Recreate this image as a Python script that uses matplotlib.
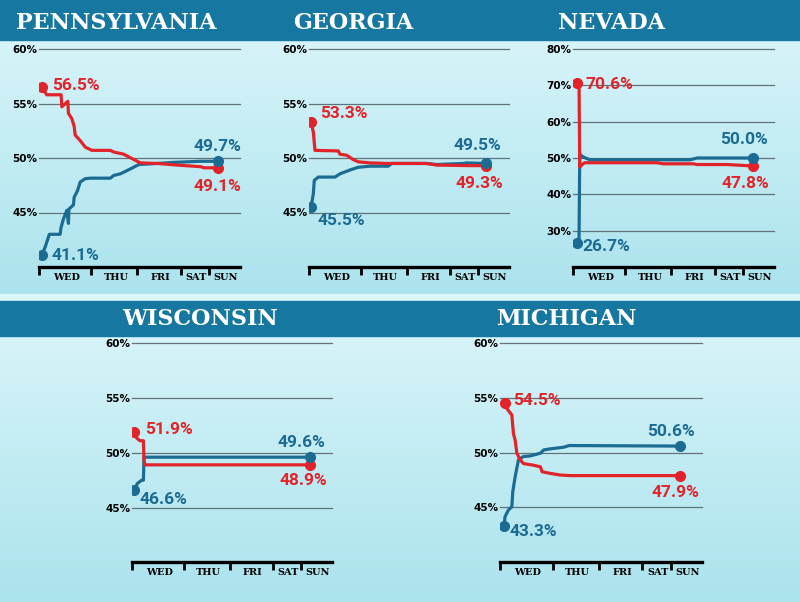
import matplotlib.pyplot as plt
import numpy as np
from matplotlib.patches import Rectangle

RED = '#e2232a'
BLUE = '#1b6b93'
BAND = '#1677a0'
GRID = '#5f7378'

days = ['WED', 'THU', 'FRI', 'SAT', 'SUN']
day_edges = [0, 52, 98, 141, 169, 200]

# Pennsylvania
pa_rep_x = [2.7, 7.7, 22, 22.7, 28.7, 29.3, 32.7, 35, 36, 41, 46, 52.7, 71, 74.3, 84.3, 89.3,
            97.7, 101, 117.7, 137.7, 161, 164.3, 177.7]
pa_rep_y = [56.5, 55.8, 55.8, 54.7, 55.2, 54.1, 53.6, 52.9, 52.1, 51.6, 51.0, 50.7, 50.7, 50.55,
            50.35, 50.1, 49.7, 49.55, 49.5, 49.35, 49.2, 49.1, 49.1]
pa_dem_x = [2.7, 6, 10.3, 21, 22, 24.3, 27.7, 29.3, 29.7, 34.3, 35, 38.3, 41, 46, 51, 71, 74.3,
            81, 91, 99.3, 117.7, 134.3, 161, 177.7]
pa_dem_y = [41.1, 41.8, 43.0, 43.0, 43.65, 44.4, 45.2, 44.0, 45.3, 45.7, 46.4, 47.0, 47.8, 48.1,
            48.15, 48.15, 48.4, 48.55, 49.0, 49.4, 49.5, 49.6, 49.7, 49.7]

# Georgia
ga_rep_x = [2, 4.3, 6, 29.3, 31, 37.7, 44.3, 49.3, 61, 77.7, 117.7, 127.7, 161, 177]
ga_rep_y = [53.3, 52.4, 50.7, 50.65, 50.35, 50.25, 49.85, 49.65, 49.55, 49.5, 49.5, 49.35,
            49.3, 49.3]
ga_dem_x = [2, 4.3, 5.3, 9.3, 26, 31, 41, 49.3, 61, 79.3, 82.7, 117.7, 127.7, 154.3, 157.7, 177]
ga_dem_y = [45.5, 46.7, 47.95, 48.25, 48.25, 48.55, 48.9, 49.15, 49.25, 49.25, 49.5, 49.5,
            49.4, 49.5, 49.55, 49.5]

# Nevada
nv_rep_x = [4.3, 6, 6.7, 10, 11.7, 83.3, 90, 120, 123.3, 153.3, 166.7, 178.7]
nv_rep_y = [70.6, 70.6, 47.5, 48.4, 48.7, 48.7, 48.4, 48.4, 48.2, 48.2, 48.0, 47.8]
nv_dem_x = [4.3, 6, 6.7, 10, 16.7, 116.7, 123.3, 178.7]
nv_dem_y = [26.7, 27.0, 51.0, 50.3, 49.5, 49.5, 50.0, 50.0]

# Wisconsin
wi_rep_x = [2.7, 5, 8.3, 11.7, 12.3, 13.3, 178.3]
wi_rep_y = [51.9, 51.35, 51.1, 51.1, 49.3, 48.9, 48.9]
wi_dem_x = [2.3, 5.7, 10, 11.7, 12.3, 178.3]
wi_dem_y = [46.6, 47.2, 47.5, 47.5, 49.6, 49.6]

# Michigan
mi_rep_x = [5, 6.7, 11.7, 13.3, 15, 16.7, 20, 23.3, 33.3, 40, 41.7, 50, 60, 70, 178.3]
mi_rep_y = [54.5, 54.05, 53.45, 51.75, 51.15, 49.95, 49.35, 49.0, 48.85, 48.7, 48.25, 48.1,
            47.95, 47.9, 47.9]
mi_dem_x = [4, 5, 8.3, 11.7, 12.7, 15, 18.3, 23.3, 30, 40, 43.3, 50, 63.3, 68.3, 178.3]
mi_dem_y = [43.3, 44.15, 44.75, 45.05, 46.45, 47.8, 49.35, 49.65, 49.7, 49.95, 50.25, 50.35,
            50.5, 50.65, 50.6]

W, H = 800, 602
fig = plt.figure(figsize=(8, 6.02), dpi=100)

# background: gradient rows and blue title bands
bg = fig.add_axes([0, 0, 1, 1])
bg.set_xlim(0, W)
bg.set_ylim(H, 0)
bg.axis('off')
ys = np.arange(H)
top = np.array([0.84, 0.955, 0.975])
low = np.array([0.67, 0.89, 0.93])
grad = np.zeros((H, 1, 3))
for i, y in enumerate(ys):
    if y < 300:
        t = np.clip((y - 40) / 255, 0, 1)
    else:
        t = np.clip((y - 336) / 266, 0, 1)
    grad[i, 0] = top * (1 - t) + low * t
bg.imshow(grad, extent=[0, W, H, 0], aspect='auto', zorder=0)
bg.add_patch(Rectangle((0, 294), W, 6, color='#dcf6fa', zorder=1))
bg.add_patch(Rectangle((0, 0), W, 40, color=BAND, zorder=2))
bg.add_patch(Rectangle((0, 300.5), W, 35, color=BAND, zorder=2))

title_font = dict(color='white', fontsize=16, fontweight='bold', family='DejaVu Serif',
                  va='center', ha='left', zorder=3)
bg.text(16, 23, 'PENNSYLVANIA', **title_font)
bg.text(293, 23, 'GEORGIA', **title_font)
bg.text(558, 23, 'NEVADA', **title_font)
bg.text(122, 319, 'WISCONSIN', **title_font)
bg.text(496, 319, 'MICHIGAN', **title_font)


def draw_panel(box, yticks, ylim, rep_x, rep_y, dem_x, dem_y, offsets):
    left, top_px, right, bottom_px = box
    ax = fig.add_axes([left / W, 1 - bottom_px / H, (right - left) / W, (bottom_px - top_px) / H])
    ax.set_xlim(0, 200)
    ax.set_ylim(*ylim)
    ax.patch.set_alpha(0)
    for t in yticks:
        ax.axhline(t, color=GRID, lw=0.9, clip_on=False, zorder=1)
    ax.set_yticks(yticks)
    ax.set_yticklabels([f'{t}%' for t in yticks], fontsize=7.5, fontweight='bold')
    ax.tick_params(axis='y', length=0, pad=1)
    for s in ['left', 'top', 'right']:
        ax.spines[s].set_visible(False)
    ax.spines['bottom'].set_linewidth(2.4)
    ax.set_xticks(day_edges[:-1])
    ax.set_xticklabels([])
    ax.tick_params(axis='x', which='major', length=6, width=2, direction='out', color='black')
    mids = [(a + b) / 2 + 1.5 for a, b in zip(day_edges[:-1], day_edges[1:])]
    ax.set_xticks(mids, minor=True)
    ax.set_xticklabels(days, minor=True, fontsize=7, fontweight='bold', family='DejaVu Serif')
    ax.tick_params(axis='x', which='minor', length=0, pad=4)

    ax.plot(dem_x, dem_y, color=BLUE, lw=2.3, solid_joinstyle='round', zorder=3)
    ax.plot(rep_x, rep_y, color=RED, lw=2.3, solid_joinstyle='round', zorder=4)
    for xs, yv, c in [(rep_x, rep_y, RED), (dem_x, dem_y, BLUE)]:
        ax.plot([xs[0], xs[-1]], [yv[0], yv[-1]], 'o', ms=7, color=c, zorder=5)

    label_font = dict(fontsize=12.5, fontweight='bold', family='Roboto', va='center',
                      textcoords='offset pixels', annotation_clip=False)
    ax.annotate(f'{rep_y[0]:.1f}%', (rep_x[0], rep_y[0]), xytext=offsets[0], ha='left',
                color=RED, **label_font)
    ax.annotate(f'{dem_y[0]:.1f}%', (dem_x[0], dem_y[0]), xytext=offsets[1], ha='left',
                color=BLUE, **label_font)
    ax.annotate(f'{dem_y[-1]:.1f}%', (dem_x[-1], dem_y[-1]), xytext=offsets[2], ha='center',
                color=BLUE, **label_font)
    ax.annotate(f'{rep_y[-1]:.1f}%', (rep_x[-1], rep_y[-1]), xytext=offsets[3], ha='center',
                color=RED, **label_font)
    return ax


draw_panel((39, 49, 240, 267), [45, 50, 55, 60], (40, 60), pa_rep_x, pa_rep_y, pa_dem_x, pa_dem_y,
           [(10, 2), (10, 0), (0, 15), (0, -19)])
draw_panel((309, 49, 509, 267), [45, 50, 55, 60], (40, 60), ga_rep_x, ga_rep_y, ga_dem_x, ga_dem_y,
           [(9, 9), (7, -13), (-9, 18), (-7, -18)])
draw_panel((573, 49, 774, 267), [30, 40, 50, 60, 70, 80], (20, 80), nv_rep_x, nv_rep_y,
           nv_dem_x, nv_dem_y, [(8, -1), (5, -4), (-9, 18), (-7, -18)])
draw_panel((131.7, 343.3, 331.7, 562.3), [45, 50, 55, 60], (40, 60), wi_rep_x, wi_rep_y,
           wi_dem_x, wi_dem_y, [(11, 2), (6, -9), (-9, 15), (-7, -16)])
draw_panel((500, 343.3, 702, 562), [45, 50, 55, 60], (40, 60), mi_rep_x, mi_rep_y,
           mi_dem_x, mi_dem_y, [(8, 3), (6, -6), (-9, 15), (-5, -17)])

fig.savefig('out.png', dpi=100)
